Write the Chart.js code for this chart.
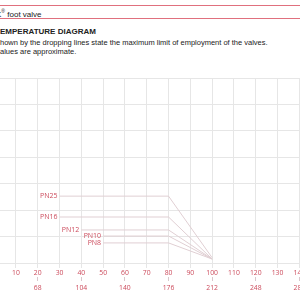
<!DOCTYPE html>
<html>
<head>
<meta charset="utf-8">
<script src="https://cdn.jsdelivr.net/npm/chart.js@4.4.1/dist/chart.umd.min.js"></script>
<style>
  html, body { margin: 0; padding: 0; background: #fff; }
  body { width: 300px; height: 300px; position: relative; overflow: hidden; font-family: "Liberation Sans", Arial, sans-serif; color: #222; }
  .rule { position: absolute; left: 0; width: 300px; height: 1px; background: #e0707e; }
  .txt { position: absolute; white-space: nowrap; line-height: 1; }
  #chartWrap { position: absolute; left: 0; top: 0; width: 300px; height: 300px; }
</style>
</head>
<body>
<div class="rule" style="top:5px"></div>
<div class="txt" style="left:-4px;top:9px;font-size:8px;">K<sup style="font-size:5px;">®</sup> foot valve</div>
<div class="rule" style="top:18px"></div>
<div class="txt" style="left:0;top:28px;font-size:8px;font-weight:bold;font-family:'Liberation Sans Narrow','Liberation Sans',Arial,sans-serif;">EMPERATURE DIAGRAM</div>
<div class="txt" style="left:0;top:39px;font-size:7.5px;">hown by the dropping lines state the maximum limit of employment of the valves.</div>
<div class="txt" style="left:0;top:48px;font-size:7.5px;">alues are approximate.</div>
<div id="chartWrap"><canvas id="ptChart" width="300" height="300"></canvas></div>

<script>
/* ================================================================
   DATA — pressure (bar) vs temperature (°C)
================================================================ */
const celsiusTicks    = [10, 20, 30, 40, 50, 60, 70, 80, 90, 100, 110, 120, 130, 140];
const fahrenheitTicks = [68, 104, 140, 176, 212, 248, 284];
const pressureTicks   = [0, 10, 20, 30, 40, 50, 60, 70];

const seriesNames = ['PN25', 'PN16', 'PN12', 'PN10', 'PN8'];
const pn25Temp = [30, 80, 100];  const pn25Bar = [25.3, 25.3, 2];
const pn16Temp = [30, 80, 100];  const pn16Bar = [17.4, 17.4, 1.5];
const pn12Temp = [40, 80, 100];  const pn12Bar = [12.5, 12.5, 1.5];
const pn10Temp = [50, 80, 100];  const pn10Bar = [10.2, 10.2, 1.5];
const pn8Temp  = [50, 80, 100];  const pn8Bar  = [7.6, 7.6, 1.5];

const X_MIN = 2.7, X_MAX = 140.3;
const RED   = '#cc4b5c';
const LINE  = '#e0cfd3';
const GRID  = '#e6e6e6';

const toPts = (xs, ys) => xs.map((x, i) => ({ x, y: ys[i] }));
const seriesData = [
  toPts(pn25Temp, pn25Bar),
  toPts(pn16Temp, pn16Bar),
  toPts(pn12Temp, pn12Bar),
  toPts(pn10Temp, pn10Bar),
  toPts(pn8Temp,  pn8Bar)
];

/* ── labels left of the first point of each line ── */
const pnLabels = {
  id: 'pnLabels',
  afterDatasetsDraw(chart) {
    const ctx = chart.ctx;
    ctx.save();
    ctx.font = '7px "Open Sans", sans-serif';
    ctx.fillStyle = RED;
    ctx.textAlign = 'right';
    ctx.textBaseline = 'middle';
    chart.data.datasets.forEach((ds, i) => {
      const p = chart.getDatasetMeta(i).data[0];
      ctx.fillText(ds.label, p.x - 2, p.y);
    });
    ctx.restore();
  }
};

const noPad = s => { s.paddingLeft = 0; s.paddingRight = 0; s.paddingTop = 0; s.paddingBottom = 0; };

new Chart(document.getElementById('ptChart'), {
  type: 'line',
  data: {
    datasets: seriesData.map((d, i) => ({
      label: seriesNames[i],
      data: d,
      borderColor: LINE,
      borderWidth: 1,
      pointRadius: 0,
      tension: 0,
      fill: false
    }))
  },
  options: {
    responsive: false,
    animation: false,
    layout: { padding: { top: 78, left: 0, right: 0, bottom: 0 } },
    plugins: { legend: { display: false }, tooltip: { enabled: false } },
    scales: {
      x: {
        type: 'linear', position: 'bottom', min: X_MIN, max: X_MAX,
        afterBuildTicks: s => { s.ticks = celsiusTicks.map(v => ({ value: v })); },
        afterFit: s => { s.height = 14; noPad(s); },
        ticks: { color: RED, font: { family: 'Open Sans', size: 6.8 }, padding: 1, maxRotation: 0, autoSkip: false, includeBounds: false },
        grid: { color: GRID, tickLength: 5, tickColor: GRID },
        border: { display: false }
      },
      x2: {
        type: 'linear', position: 'bottom', min: X_MIN * 1.8 + 32, max: X_MAX * 1.8 + 32,
        afterBuildTicks: s => { s.ticks = fahrenheitTicks.map(v => ({ value: v })); },
        afterFit: s => { s.height = 23; noPad(s); },
        ticks: { color: RED, font: { family: 'Open Sans', size: 6.8 }, padding: 3, maxRotation: 0, autoSkip: false, includeBounds: false },
        grid: { drawOnChartArea: false, tickLength: 4, tickColor: '#d9c6cb' },
        border: { display: false }
      },
      y: {
        type: 'linear', min: 0, max: 70,
        afterBuildTicks: s => { s.ticks = pressureTicks.map(v => ({ value: v })); },
        afterFit: s => { s.width = 0; noPad(s); },
        ticks: { display: false },
        grid: { color: GRID, drawTicks: false },
        border: { display: false }
      }
    }
  },
  plugins: [pnLabels]
});
</script>
</body>
</html>
